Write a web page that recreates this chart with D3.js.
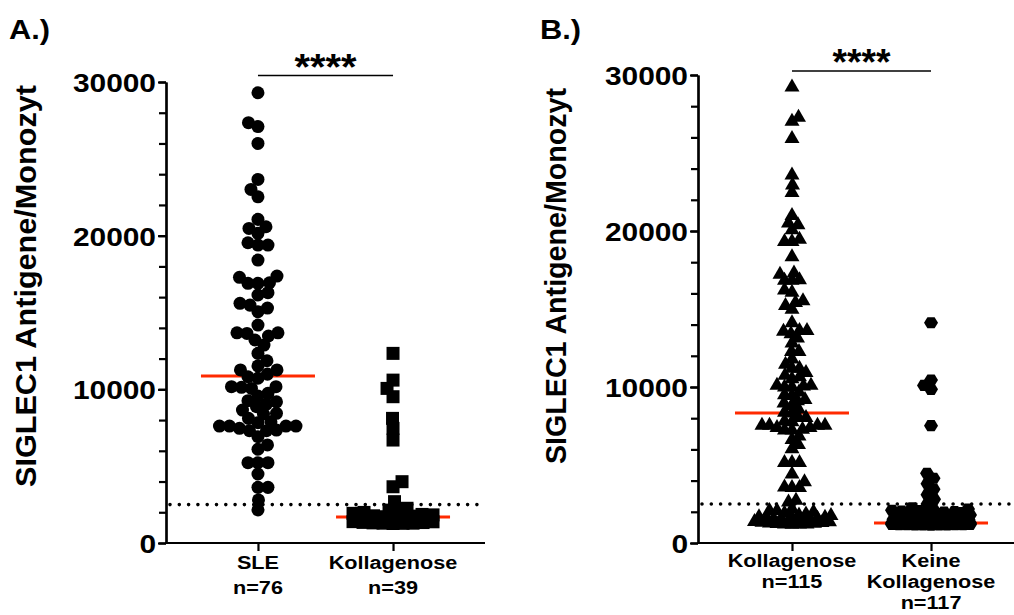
<!DOCTYPE html>
<html>
<head>
<meta charset="utf-8">
<script src="https://cdn.jsdelivr.net/npm/d3@7"></script>
<style>
  body { margin: 0; background: #fff; }
  svg { display: block; }
  text { font-family: "Liberation Sans", Arial, sans-serif; font-weight: bold; fill: #000; }
</style>
</head>
<body>
<script>
// values (SIGLEC1 antigens per monocyte)
var sle = [29300, 27350, 27100, 26000, 23660, 23010, 22530, 21060, 20580, 20470,
  20150, 19540, 19390, 19390, 18410, 17370, 17290, 16935, 16900, 16900,
  16290, 16140, 15600, 15480, 15290, 15050, 14180, 13680, 13680, 13640,
  13470, 13210, 12880, 12340, 11860, 11520, 11260, 11260, 10990, 10820,
  10720, 10170, 10170, 10130, 10060, 9740, 9560, 9260, 9190, 9040,
  8870, 8650, 8440, 8390, 8110, 7890, 7830, 7610, 7610, 7610,
  7610, 7460, 7350, 7310, 7310, 6920, 6380, 6100, 5230, 5230,
  5230, 4490, 3620, 3620, 2800, 2150];
var kollagenoseA = [12340, 10600, 10060, 9520, 8110, 7460, 6700, 3990, 3660, 2690,
  2260, 2140, 2060, 1990, 1930, 1860, 1830, 1770, 1750, 1710,
  1690, 1650, 1640, 1590, 1570, 1520, 1510, 1470, 1440, 1430,
  1390, 1380, 1340, 1330, 1310, 1290, 1290, 1280, 1270];
// the left group of panel B pools both groups of panel A (76 + 39 = 115)
var kollagenoseB = sle.concat(kollagenoseA);
var keineKollagenose = [14120, 10450, 10100, 9850, 7520, 4470, 4150, 3800, 3450, 3100,
  2800, 2500, 2250, 2180, 2130, 2100, 2070, 2040, 2010, 1980,
  1950, 1920, 1890, 1860, 1830, 1800, 1780, 1750, 1730, 1710,
  1690, 1665, 1650, 1630, 1610, 1590, 1570, 1555, 1540, 1520,
  1500, 1490, 1475, 1460, 1440, 1430, 1415, 1400, 1390, 1375,
  1360, 1352, 1340, 1325, 1318, 1305, 1300, 1290, 1282, 1281,
  1280, 1279, 1278, 1277, 1276, 1275, 1274, 1272, 1271, 1270,
  1268, 1266, 1265, 1263, 1262, 1260, 1258, 1256, 1254, 1252,
  1250, 1248, 1246, 1244, 1242, 1240, 1238, 1235, 1232, 1230,
  1228, 1225, 1222, 1220, 1218, 1215, 1212, 1210, 1208, 1205,
  1202, 1200, 1198, 1195, 1192, 1190, 1188, 1185, 1180, 1178,
  1175, 1170, 1168, 1162, 1160, 1155, 1150];

var groupsA = ["SLE", "Kollagenose"];
var groupsB = ["Kollagenose", "Keine Kollagenose"];
var labelsA = [["SLE", "n=76"], ["Kollagenose", "n=39"]];
var labelsB = [["Kollagenose", "n=115"], ["Keine", "Kollagenose", "n=117"]];
var mediansA = [10860, 1690];
var mediansB = [8330, 1280];
var majorTicks = [0, 10000, 20000, 30000];
var minorStep = 2000;
var cutoff = 2500;
var yTitle = "SIGLEC1 Antigene/Monozyt";

var svg = d3.select("body").append("svg")
  .attr("width", 1014).attr("height", 615);

// symbols
var triangle = { draw: function(ctx) {
  ctx.moveTo(0, -7.5); ctx.lineTo(7.5, 5.5); ctx.lineTo(-7.5, 5.5); ctx.closePath();
} };
var hexagon = { draw: function(ctx) {
  ctx.moveTo(-7, 0); ctx.lineTo(-3.6, -5.6); ctx.lineTo(3.6, -5.6);
  ctx.lineTo(7, 0); ctx.lineTo(3.6, 5.6); ctx.lineTo(-3.6, 5.6); ctx.closePath();
} };
var shapes = {
  circle: d3.symbol().type(d3.symbolCircle).size(133)(),
  square: d3.symbol().type(d3.symbolSquare).size(169)(),
  triangle: d3.symbol().type(triangle)(),
  hexagon: d3.symbol().type(hexagon)()
};

// greedy beeswarm, kept inside +-maxHalf of the column centre
function swarm(values, cx, y, minDist, maxHalf) {
  var order = d3.range(values.length).sort(function(a, b) { return values[a] - values[b]; });
  var placed = [], out = [];
  order.forEach(function(i, n) {
    var py = y(values[i]);
    var near = placed.filter(function(p) { return Math.abs(p.y - py) < minDist; });
    var free = function(c) {
      return near.every(function(p) {
        return (p.x - c) * (p.x - c) + (p.y - py) * (p.y - py) >= minDist * minDist;
      });
    };
    var best = null;
    for (var k = 0; k <= maxHalf && best === null; k += 0.5) {
      var cands = n % 2 ? [k, -k] : [-k, k];
      for (var j = 0; j < 2; j++) if (free(cands[j])) { best = cands[j]; break; }
    }
    if (best === null) {
      var bestD = -1;
      for (var c = -maxHalf; c <= maxHalf; c += 0.5) {
        var d = d3.min(near, function(p) { return Math.hypot(p.x - c, p.y - py); });
        if (d > bestD) { bestD = d; best = c; }
      }
    }
    placed.push({ x: best, y: py });
    out.push({ v: values[i], x: cx + best, y: py });
  });
  return out;
}

function stretched(g, x, y, str, size, anchor, sx) {
  return g.append("text")
    .attr("transform", "translate(" + x + "," + y + ") scale(" + sx + ",1)")
    .attr("text-anchor", anchor)
    .style("font-size", size + "px")
    .text(str);
}

function panel(o) {
  var g = svg.append("g");
  var y = d3.scaleLinear().domain([0, 30000]).range([543, o.top]);
  var x = d3.scalePoint().domain(o.groups).range([o.left, o.right]).padding(o.pad);

  // cutoff
  g.append("line")
    .attr("x1", o.left + 4).attr("x2", o.lineEnd)
    .attr("y1", y(cutoff)).attr("y2", y(cutoff))
    .attr("stroke", "#000").attr("stroke-width", 3.6)
    .attr("stroke-linecap", "round").attr("stroke-dasharray", "0,9.3");

  // medians
  g.selectAll(".median").data(o.medians).enter().append("line")
    .attr("x1", function(d, i) { return x(o.groups[i]) - 57; })
    .attr("x2", function(d, i) { return x(o.groups[i]) + 57; })
    .attr("y1", function(d) { return y(d); })
    .attr("y2", function(d) { return y(d); })
    .attr("stroke", "#ff2a00").attr("stroke-width", 3);

  // points
  o.series.forEach(function(vals, i) {
    var pts = swarm(vals, x(o.groups[i]), y, o.minDist[i], o.spread);
    g.append("g").selectAll("path").data(pts).enter().append("path")
      .attr("d", shapes[o.shapes[i]])
      .attr("transform", function(d) { return "translate(" + d.x + "," + d.y + ")"; })
      .attr("fill", "#000");
  });

  // axes
  var yAxis = g.append("g").attr("transform", "translate(" + o.left + ",0)")
    .call(d3.axisLeft(y).tickValues(majorTicks).tickSize(8).tickSizeOuter(0).tickPadding(0)
      .tickFormat(d3.format("d")));
  yAxis.selectAll("text").remove();
  yAxis.selectAll(".tick").each(function(d) {
    stretched(d3.select(this), -10, 9.5, String(d), 26, "end", 1.15);
  });
  g.append("g").attr("transform", "translate(" + o.left + ",0)")
    .call(d3.axisLeft(y).tickValues(d3.range(0, 30001, minorStep)).tickSize(7)
      .tickSizeOuter(0).tickFormat(""));
  var xAxis = g.append("g").attr("transform", "translate(0,543)")
    .call(d3.axisBottom(x).tickSize(8).tickSizeOuter(0).tickFormat(""));
  xAxis.select(".domain").attr("d", "M" + (o.left - 1) + ",0H" + o.right);
  g.selectAll(".domain, .tick line").attr("stroke", "#000").attr("stroke-width", 2.2);

  // category labels
  o.labels.forEach(function(lines, i) {
    lines.forEach(function(t, k) {
      stretched(g, x(o.groups[i]), o.labelY + k * o.lineGap, t, 19, "middle", 1.14);
    });
  });

  // significance bar
  g.append("line")
    .attr("x1", x(o.groups[0])).attr("x2", x(o.groups[1]))
    .attr("y1", o.barY).attr("y2", o.barY)
    .attr("stroke", "#000").attr("stroke-width", 1.6);
  g.append("text")
    .attr("x", (x(o.groups[0]) + x(o.groups[1])) / 2 - o.starW / 2).attr("y", o.barY + 4)
    .attr("textLength", o.starW).attr("lengthAdjust", "spacingAndGlyphs")
    .style("font-size", "36px").text("****");

  // y title and panel letter
  g.append("text")
    .attr("transform", "translate(" + o.titleX + "," + o.titleY + ") rotate(-90)")
    .attr("text-anchor", "middle")
    .attr("textLength", o.titleLen).attr("lengthAdjust", "spacingAndGlyphs")
    .style("font-size", "29px").text(yTitle);
  stretched(g, o.letterX, 39, o.letter, 28, "start", 1.1);
}

panel({
  groups: groupsA, series: [sle, kollagenoseA], shapes: ["circle", "square"],
  medians: mediansA, labels: labelsA, minDist: [10, 10], spread: 40,
  labelY: 569, lineGap: 25,
  left: 166, right: 485, pad: 0.681, top: 82, lineEnd: 485,
  barY: 75.5, starW: 62, titleX: 36, titleY: 286, titleLen: 402,
  letter: "A.)", letterX: 9
});
panel({
  groups: groupsB, series: [kollagenoseB, keineKollagenose], shapes: ["triangle", "hexagon"],
  medians: mediansB, labels: labelsB, minDist: [7.5, 8], spread: 39,
  labelY: 567, lineGap: 21,
  left: 698, right: 1025, pad: 0.676, top: 75, lineEnd: 1014,
  barY: 71, starW: 58, titleX: 566, titleY: 276, titleLen: 376,
  letter: "B.)", letterX: 540
});
</script>
</body>
</html>
